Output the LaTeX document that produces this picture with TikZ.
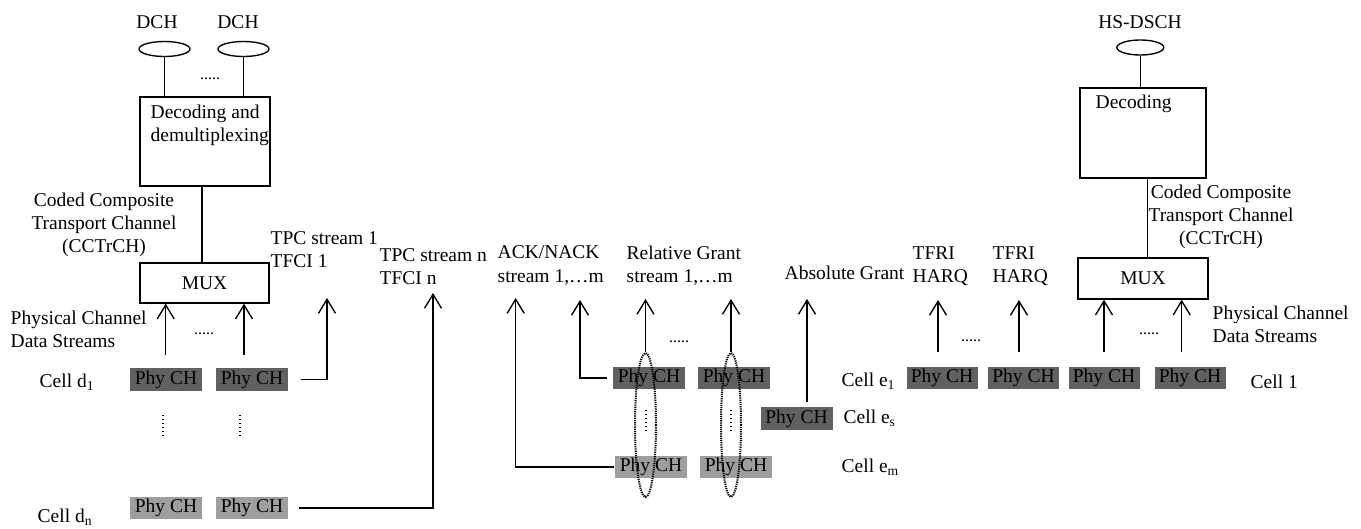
\documentclass[tikz,border=0pt]{standalone}
\usepackage{fontspec}
\setmainfont{Liberation Serif}
\usetikzlibrary{arrows.meta,shapes.geometric}
\definecolor{phydark}{gray}{0.38}
\definecolor{phylight}{gray}{0.62}
\begin{document}
\begin{tikzpicture}[x=1pt,y=-1pt, font=\fontsize{19.5}{23.3}\selectfont, line width=1.35pt,
 phyd/.style={rectangle, fill=phydark, minimum width=72pt, minimum height=22.5pt, inner sep=0pt},
 phyl/.style={phyd, fill=phylight},
 blk/.style={draw, rectangle, inner sep=0pt},
 txt/.style={inner sep=0pt, anchor=west, align=left},
 ctxt/.style={inner sep=0pt, align=center},
 chan/.style={draw, ellipse, inner sep=0pt, minimum width=51pt, minimum height=15pt},
 grp/.style={draw, ellipse, inner sep=0pt, dash pattern=on 1.2pt off 1pt, line width=2pt},
 arr/.style={-{Straight Barb[length=14pt,width=17pt]}},
 hdots/.style={inner sep=0pt, font=\fontsize{16}{16}\selectfont},
 vdots/.style={dash pattern=on 1.2pt off 2.8pt, line width=1.3pt}
]
\useasboundingbox (0,0) rectangle (1361,529);

% ---------------- left: DCH chain ----------------
\node[ctxt] (dchA) at (157,22) {DCH};
\node[ctxt] (dchB) at (238,22) {DCH};
\node[chan] (chA) at (164.5,49) {};
\node[chan] (chB) at (243.5,49) {};
\node[blk, minimum width=130pt, minimum height=89pt] (dec) at (205,141.5) {};
\node[txt] (decT) at (150,125) {Decoding and\\demultiplexing};
\draw (chA.south) -- (chA.south |- dec.north);
\draw (chB.south) -- (chB.south |- dec.north);
\node[hdots] (dotsA) at (210,79) {.....};
\node[blk, minimum width=129pt, minimum height=40pt] (mux) at (204.5,283) {MUX};
\draw ([xshift=-3pt]dec.south) -- ([xshift=-3pt]dec.south |- mux.north);
\node[ctxt] (cctL) at (104,225) {Coded Composite\\Transport Channel\\(CCTrCH)};
\node[txt] (tpc1) at (270,249.5) {TPC stream 1\\TFCI 1};
\node[txt] (pcdsL) at (10,329.5) {Physical Channel\\Data Streams};
\node[txt] (celld1) at (39,382) {Cell d\textsubscript{1}};
\node[phyd] (d1a) at (166,379.5) {Phy CH};
\node[phyd] (d1b) at (252,379.5) {Phy CH};
\coordinate (mA) at (165.7,355);
\coordinate (mB) at (244,355);
\draw[arr] (mA) -- (mA |- mux.south);
\draw[arr] (mB) -- (mB |- mux.south);
\node[hdots] (dotsB) at (204,334) {.....};
\coordinate (t1) at (327,298);
\draw[arr] ([xshift=12pt]d1b.east) -| (t1);
\draw[vdots] (163,415) -- (163,437);
\draw[vdots] (240,415) -- (240,437);
\node[phyl] (dna) at (166,508) {Phy CH};
\node[phyl] (dnb) at (252,508) {Phy CH};
\node[txt] (celldn) at (37,517) {Cell d\textsubscript{n}};
\coordinate (tn) at (433,293);
\draw[arr] ([xshift=10pt]dnb.east) -| (tn);
\node[txt] (tpcn) at (379,266.5) {TPC stream n\\TFCI n};

% ---------------- middle ----------------
\node[txt] (ack) at (497,265.5) {ACK/NACK\\stream 1,…m};
\node[txt] (relg) at (626,265.5) {Relative Grant\\stream 1,…m};
\node[phyd] (e1a) at (649,378) {Phy CH};
\node[phyd] (e1b) at (734,378) {Phy CH};
\node[phyl] (ema) at (651,467) {Phy CH};
\node[phyl] (emb) at (736,467) {Phy CH};
\node[grp, minimum width=21pt, minimum height=144pt] (g1) at (645.5,425) {};
\node[grp, minimum width=20pt, minimum height=144pt] (g2) at (731,425) {};
\draw[vdots] (646,410) -- (646,432);
\draw[vdots] (731,410) -- (731,432);
\coordinate (ak1) at (515.7,298);
\coordinate (ak2) at (580,300);
\draw[arr] (ema.west) -| (ak1);
\draw[arr] ([xshift=-5pt]e1a.west) -| (ak2);
\coordinate (rg1) at (646,299);
\coordinate (rg2) at (730,299);
\draw[arr] (g1.north) -- (g1.north |- rg1);
\draw[arr] (g2.north) -- (g2.north |- rg2);
\node[hdots] (dotsC) at (679,342) {.....};
\node[txt] (absg) at (784,273) {Absolute Grant};
\node[phyd] (es) at (796.5,418.5) {Phy CH};
\coordinate (agt) at (807,402);
\coordinate (ag) at (807,299);
\draw[arr] (agt) -- (ag);
\node[txt] (celle1) at (841,381) {Cell e\textsubscript{1}};
\node[txt] (celles) at (843,418) {Cell e\textsubscript{s}};
\node[txt] (cellem) at (841,467) {Cell e\textsubscript{m}};

% ---------------- right: HS-DSCH chain ----------------
\node[txt] (tfri1) at (912,266) {TFRI\\HARQ};
\node[txt] (tfri2) at (992,266) {TFRI\\HARQ};
\node[phyd, minimum width=71pt] (r1) at (942,378) {Phy CH};
\node[phyd, minimum width=71pt] (r2) at (1023.5,378) {Phy CH};
\node[phyd, minimum width=71pt] (r3) at (1104,378) {Phy CH};
\node[phyd, minimum width=71pt] (r4) at (1190,378) {Phy CH};
\coordinate (h1) at (938,352);
\coordinate (h2) at (1019,352);
\draw[arr] (h1) -- (938,300);
\draw[arr] (h2) -- (1019,300);
\node[hdots] (dotsD) at (971,341) {.....};
\node[blk, minimum width=130pt, minimum height=41pt] (mux2) at (1143,278.5) {MUX};
\coordinate (h3) at (1104,352);
\coordinate (h4) at (1181.7,352);
\draw[arr] (h3) -- (h3 |- mux2.south);
\draw[arr] (h4) -- (h4 |- mux2.south);
\node[hdots] (dotsE) at (1149,334) {.....};
\node[txt] (pcdsR) at (1212,324) {Physical Channel\\Data Streams};
\node[txt] (cell1) at (1250,382) {Cell 1};
\node[ctxt] (hsdsch) at (1140,22) {HS-DSCH};
\node[chan, minimum width=47pt] (ch2) at (1140.3,47.5) {};
\node[blk, minimum width=126pt, minimum height=90pt] (dec2) at (1143,133) {};
\node[txt] (dec2T) at (1095,104) {Decoding};
\draw (ch2.south) -- (ch2.south |- dec2.north);
\draw ([xshift=4.7pt]dec2.south) -- ([xshift=4.7pt]dec2.south |- mux2.north);
\node[ctxt] (cctR) at (1221,217) {Coded Composite\\Transport Channel\\(CCTrCH)};
\end{tikzpicture}
\end{document}
